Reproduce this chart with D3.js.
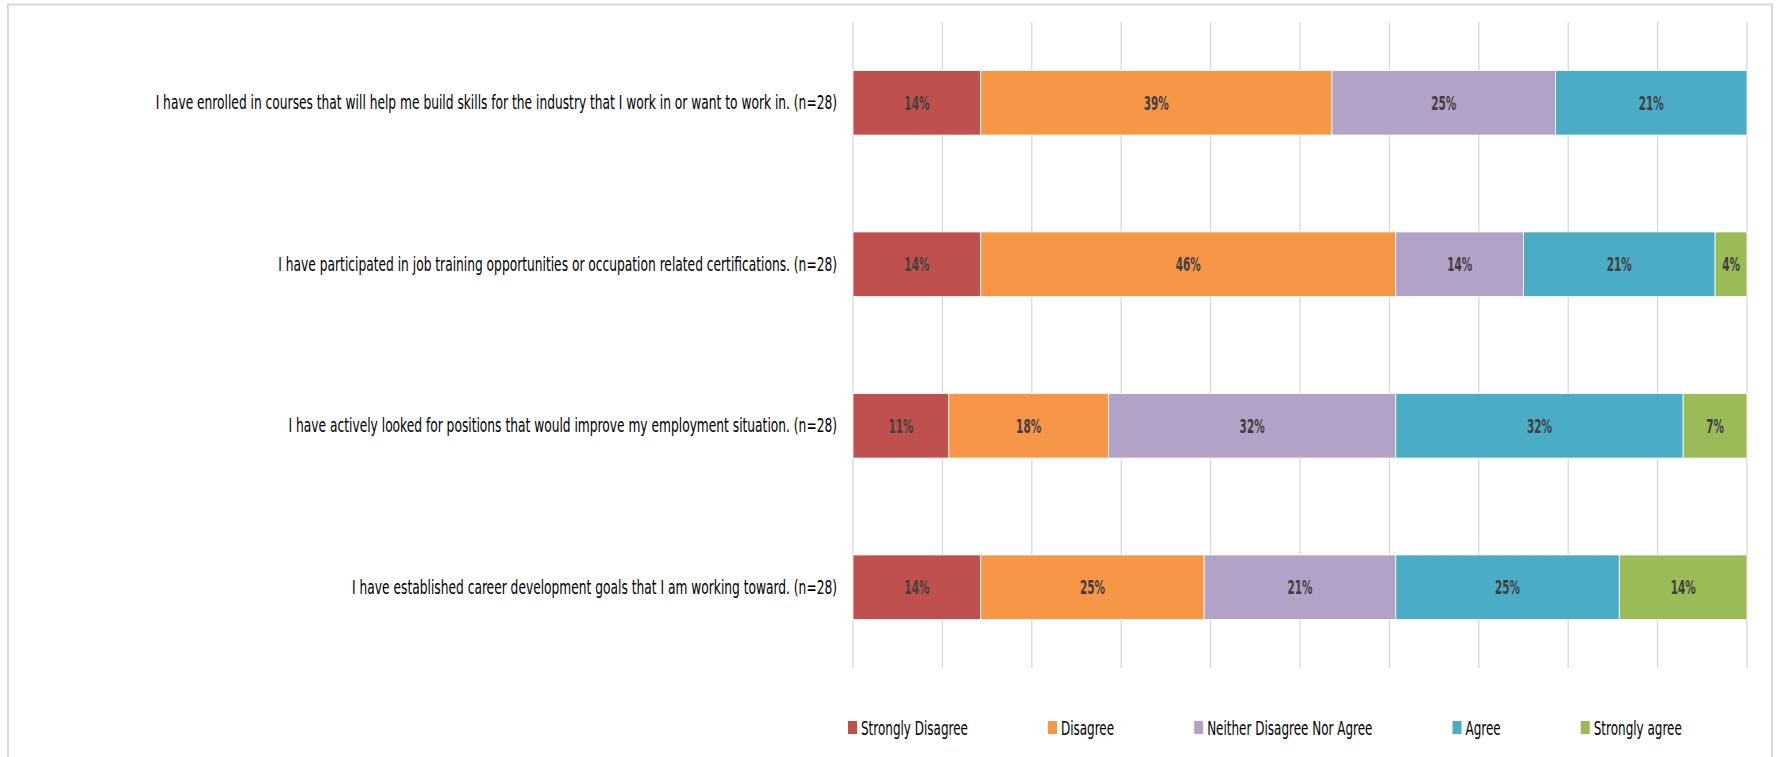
<!DOCTYPE html>
<html lang="en">
<head>
    <meta charset="UTF-8">
    <title>Career development survey</title>
    <script src="https://d3js.org/d3.v7.min.js"></script>
    <style>
        body { margin: 0; background: #fff; }
        svg { display: block; }
        text { font-family: "Liberation Sans Narrow", "Arial Narrow", "DejaVu Sans Condensed", sans-serif; }
    </style>
</head>
<body>
<svg width="1777" height="757"></svg>
<script>
    // responses out of n=28, in order of the legend
    const n = 28;
    const questions = [
        "I have enrolled in courses that will help me build skills for the industry that I work in or want to work in. (n=28)",
        "I have participated in job training opportunities or occupation related certifications. (n=28)",
        "I have actively looked for positions that would improve my employment situation. (n=28)",
        "I have established career development goals that I am working toward. (n=28)"
    ];
    const responses = ["Strongly Disagree", "Disagree", "Neither Disagree Nor Agree", "Agree", "Strongly agree"];
    const stronglyDisagree = [4, 4, 3, 4];
    const disagree = [11, 13, 5, 7];
    const neither = [7, 4, 9, 6];
    const agree = [6, 6, 9, 7];
    const stronglyAgree = [0, 1, 2, 4];
    const gridTicks = [0, 10, 20, 30, 40, 50, 60, 70, 80, 90, 100];

    const colors = ["#c0504d", "#f79646", "#b3a2c7", "#4bacc6", "#9bbb59"];
    const seriesValues = [stronglyDisagree, disagree, neither, agree, stronglyAgree];

    const svg = d3.select("svg");
    const margin = {top: 22, right: 30, bottom: 89, left: 853};
    const W = 1777, H = 757;
    const plotRight = 1747;

    // outer chart border (top + left + right visible)
    svg.append("path")
        .attr("d", `M8,${H} V4.5 H1772 V${H}`)
        .attr("fill", "none").attr("stroke", "#d9d9d9").attr("stroke-width", 2);

    const x = d3.scaleLinear().domain([0, 100]).range([margin.left, plotRight]);
    const y = d3.scaleBand().domain(questions).range([margin.top, H - margin.bottom])
        .paddingInner(0.6).paddingOuter(0.3);

    // gridlines
    svg.append("g").selectAll("line").data(gridTicks).join("line")
        .attr("x1", d => x(d)).attr("x2", d => x(d))
        .attr("y1", margin.top).attr("y2", H - margin.bottom)
        .attr("stroke", "#d9d9d9").attr("stroke-width", 1.3);

    // stack data
    const rows = questions.map((q, i) => {
        const r = {q};
        responses.forEach((k, j) => r[k] = seriesValues[j][i] / n * 100);
        return r;
    });
    const stacked = d3.stack().keys(responses)(rows);

    const layer = svg.append("g").selectAll("g").data(stacked).join("g")
        .attr("fill", (d, i) => colors[i]);

    layer.selectAll("rect").data(d => d.filter(s => s[1] - s[0] > 0)).join("rect")
        .attr("x", d => x(d[0]))
        .attr("y", d => y(d.data.q))
        .attr("width", d => x(d[1]) - x(d[0]))
        .attr("height", y.bandwidth())
        .attr("stroke", "#fff").attr("stroke-width", 0.8);

    // value labels
    const valLabels = layer.selectAll("text").data(d => d.filter(s => s[1] - s[0] > 0)).join("text")
        .attr("text-anchor", "middle")
        .attr("font-size", 20).attr("font-weight", "bold").attr("fill", "#404040")
        .text(d => Math.round(d[1] - d[0]) + "%");

    // fit horizontal squeeze to the reference proportions
    function squeeze(sel, target, sample) {
        const probe = svg.append("text").attr("font-size", sel.attr("font-size"))
            .attr("font-weight", sel.attr("font-weight")).text(sample);
        const w = probe.node().getComputedTextLength();
        probe.remove();
        return target / w;
    }
    const sxVal = squeeze(valLabels, 25, "14%");
    valLabels.attr("transform", d => `translate(${(x(d[0]) + x(d[1])) / 2},${y(d.data.q) + y.bandwidth() / 2 + 7}) scale(${sxVal},1)`);

    // category labels
    const catLabels = svg.append("g").selectAll("text").data(questions).join("text")
        .attr("text-anchor", "end")
        .attr("font-size", 19).attr("fill", "#000")
        .text(d => d);
    const sxCat = squeeze(catLabels, 682, questions[0]);
    catLabels.attr("transform", d => `translate(837,${y(d) + y.bandwidth() / 2 + 6.5}) scale(${sxCat},1)`);

    // legend
    const legend = svg.append("g");
    const legY = 728;
    const sxLeg = squeeze(legend.attr("font-size", 19), 107, responses[0]);
    let lx = 848;
    responses.forEach((r, i) => {
        legend.append("rect").attr("x", lx).attr("y", legY - 7).attr("width", 9).attr("height", 13)
            .attr("fill", colors[i]);
        const t = legend.append("text").attr("font-size", 19).attr("fill", "#000")
            .attr("transform", `translate(${lx + 13},${legY + 6.5}) scale(${sxLeg},1)`)
            .text(r);
        lx += 13 + t.node().getComputedTextLength() * sxLeg + 80;
    });
</script>
</body>
</html>
